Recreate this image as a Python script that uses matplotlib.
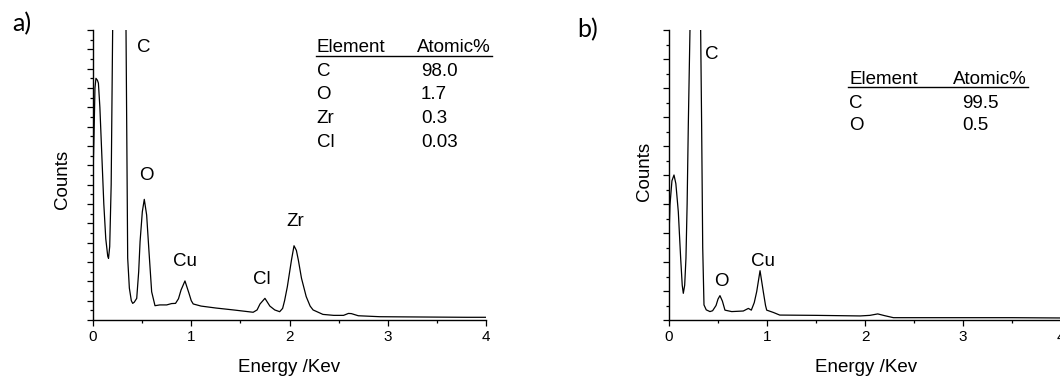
# EDX spectra, panels a) and b)

import matplotlib.pyplot as plt
import numpy as np
from matplotlib.lines import Line2D
from matplotlib.ticker import MultipleLocator

plt.rcParams['font.family'] = ['Liberation Sans', 'DejaVu Sans']

# Spectrum a (energy in keV, counts in arbitrary units)
energy_a = [0.000, 0.010, 0.020, 0.030, 0.045, 0.055, 0.070, 0.090, 0.110, 0.130,
            0.150, 0.158, 0.170, 0.185, 0.200, 0.210, 0.270, 0.330, 0.336, 0.353,
            0.370, 0.390, 0.404, 0.420, 0.445, 0.465, 0.479, 0.502, 0.522, 0.546,
            0.570, 0.597, 0.631, 0.680, 0.750, 0.800, 0.840, 0.870, 0.896, 0.936,
            0.977, 1.000, 1.020, 1.100, 1.250, 1.430, 1.630, 1.670, 1.700, 1.750,
            1.800, 1.850, 1.900, 1.930, 1.950, 1.978, 2.020, 2.046, 2.070, 2.090,
            2.122, 2.170, 2.210, 2.240, 2.340, 2.450, 2.550, 2.600, 2.630, 2.700,
            2.920, 3.200, 3.500, 3.800, 4.000]
counts_a = [740, 950, 1200, 1250, 1240, 1225, 1100, 850, 600, 420,
            330, 319, 380, 700, 1500, 2500, 6000, 2000, 1500, 320,
            165, 100, 86, 92, 112, 250, 405, 560, 624, 543,
            353, 146, 74, 78, 78, 85, 86, 110, 155, 202,
            138, 100, 83, 72, 62, 52, 40, 52, 83, 112,
            72, 52, 43, 60, 100, 172, 310, 384, 360, 310,
            216, 121, 72, 52, 29, 24, 24, 34, 33, 22,
            17, 16, 15, 14, 14]

# Spectrum b
energy_b = [0.000, 0.010, 0.030, 0.051, 0.070, 0.095, 0.119, 0.135, 0.146, 0.160,
            0.173, 0.185, 0.197, 0.214, 0.270, 0.323, 0.333, 0.344, 0.357, 0.380,
            0.418, 0.445, 0.480, 0.500, 0.520, 0.545, 0.571, 0.640, 0.758, 0.810,
            0.840, 0.870, 0.895, 0.929, 0.962, 0.985, 0.997, 1.065, 1.130, 1.500,
            1.950, 2.050, 2.130, 2.200, 2.290, 3.000, 3.500, 4.000]
counts_b = [290, 397, 480, 500, 470, 373, 213, 120, 92, 120,
            213, 400, 672, 1000, 4000, 1000, 672, 250, 52, 35,
            29, 32, 50, 72, 84, 65, 34, 29, 31, 40,
            34, 60, 98, 170, 98, 50, 34, 26, 17, 16,
            14, 16, 21, 15, 8, 8, 8, 7]

# Peak labels (text, energy, counts)
peaks_a = [('C', 0.519, 1412), ('O', 0.547, 750), ('Cu', 0.936, 300),
           ('Cl', 1.717, 212), ('Zr', 2.056, 507)]
peaks_b = [('C', 0.436, 916), ('O', 0.538, 134), ('Cu', 0.962, 203)]

# Composition tables
elements_a = ['C', 'O', 'Zr', 'Cl']
atomic_a = ['98.0', '1.7', '0.3', '0.03']
elements_b = ['C', 'O']
atomic_b = ['99.5', '0.5']

W, H = 1060, 376
fig = plt.figure(figsize=(W / 100, H / 100), dpi=100)


def fx(x):
    return x / W


def fy(y):
    return 1 - y / H


def setup(ax, ymax, ymajor):
    ax.set_xlim(0, 4)
    ax.set_ylim(0, ymax)
    ax.spines['top'].set_visible(False)
    ax.spines['right'].set_visible(False)
    for s in ('left', 'bottom'):
        ax.spines[s].set_linewidth(1.0)
    ax.xaxis.set_major_locator(MultipleLocator(1))
    ax.xaxis.set_minor_locator(MultipleLocator(0.5))
    ax.yaxis.set_major_locator(MultipleLocator(ymajor))
    ax.yaxis.set_minor_locator(MultipleLocator(ymajor / 2))
    ax.tick_params(which='both', direction='out', width=0.9)
    ax.tick_params(which='major', length=4.5)
    ax.tick_params(which='minor', length=2.5)
    ax.tick_params(axis='x', labelsize=11, pad=2.5)
    ax.tick_params(axis='y', labelleft=False)


def table(x_el, x_val, x_right, y_head, y_line, y_rows, els, vals):
    fig.text(fx(x_el), fy(y_head), 'Element', fontsize=13.5, va='center', ha='left')
    fig.text(fx(x_right), fy(y_head), 'Atomic%', fontsize=13.5, va='center', ha='right')
    fig.add_artist(Line2D([fx(x_el - 1), fx(x_right + 1)], [fy(y_line), fy(y_line)],
                          color='black', lw=1.0))
    for y, e, v in zip(y_rows, els, vals):
        fig.text(fx(x_el), fy(y), e, fontsize=13.5, va='center', ha='left')
        fig.text(fx(x_val), fy(y), v, fontsize=13.5, va='center', ha='left')


# Panel a
ax1 = fig.add_axes([fx(93), fy(320), 393 / W, 290 / H])
setup(ax1, 1500, 100)
ax1.plot(energy_a, counts_a, color='black', lw=0.9)
for name, e, c in peaks_a:
    ax1.text(e, c, name, fontsize=13.5, ha='center', va='center')
ax1.set_xlabel('Energy /Kev', fontsize=13.5, va='center')
ax1.xaxis.set_label_coords(0.5, (320 - 367) / 290)
ax1.set_ylabel('Counts', fontsize=13.5, va='center')
ax1.yaxis.set_label_coords((63 - 93) / 393, (320 - 179) / 290)
table(316.5, 421, 490.5, 47.5, 56, [71, 94.3, 118.3, 142.3], elements_a, atomic_a)
fig.text(fx(22), fy(24), 'a)', fontsize=18, family=['Lato', 'DejaVu Sans'],
         ha='center', va='center')

# Panel b
ax2 = fig.add_axes([fx(669), fy(320), 392 / W, 290 / H])
setup(ax2, 1000, 100)
ax2.plot(energy_b, counts_b, color='black', lw=0.9)
for name, e, c in peaks_b:
    ax2.text(e, c, name, fontsize=13.5, ha='center', va='center')
ax2.set_xlabel('Energy /Kev', fontsize=13.5, va='center')
ax2.xaxis.set_label_coords((865.7 - 669) / 392, (320 - 367) / 290)
ax2.set_ylabel('Counts', fontsize=13.5, va='center')
ax2.yaxis.set_label_coords((644.3 - 669) / 392, (320 - 171.7) / 290)
table(849.3, 962, 1026.5, 79, 87.3, [103.3, 126], elements_b, atomic_b)
fig.text(fx(588), fy(30), 'b)', fontsize=18, family=['Lato', 'DejaVu Sans'],
         ha='center', va='center')

plt.savefig('out.png', dpi=100)
